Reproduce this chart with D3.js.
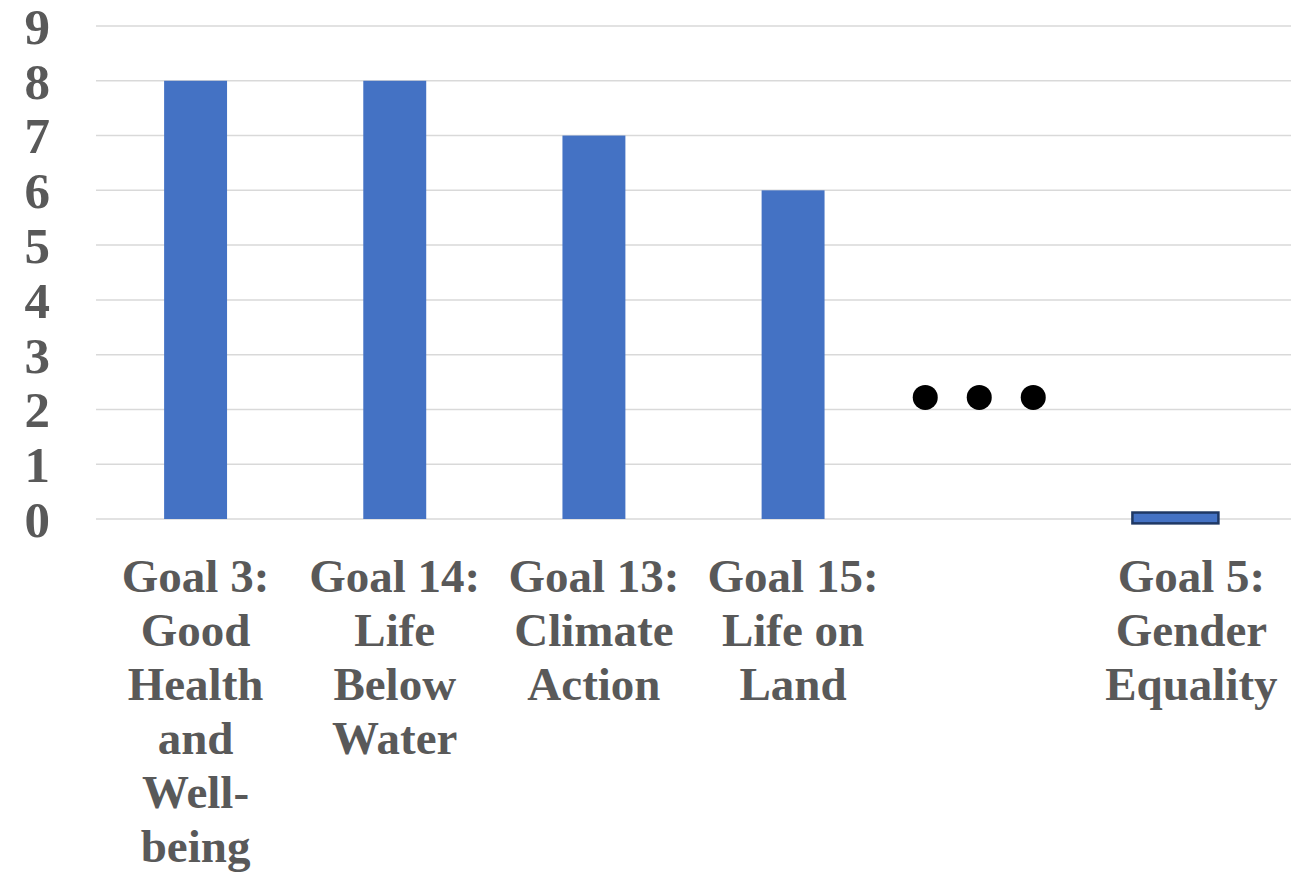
<!DOCTYPE html>
<html><head><meta charset="utf-8">
<script src="https://cdn.jsdelivr.net/npm/d3@7"></script>
<style>body{margin:0;background:#fff}svg{display:block}</style>
</head><body>
<svg id="c" width="1299" height="877"></svg>
<script>
const categories = ["Goal 3", "Goal 14", "Goal 13", "Goal 15", "...", "Goal 5"];
const values = [8, 8, 7, 6, null, 0.1];
const labelLines = [
  ["Goal 3:", "Good", "Health", "and", "Well-", "being"],
  ["Goal 14:", "Life", "Below", "Water"],
  ["Goal 13:", "Climate", "Action"],
  ["Goal 15:", "Life on", "Land"],
  [],
  ["Goal 5:", "Gender", "Equality"]
];
const yTicks = [0,1,2,3,4,5,6,7,8,9];
const ellipsisLevel = 2.22;
const ellipsisOffsets = [-1, 0, 1];

const svg = d3.select("#c");
const x = d3.scaleBand().domain(categories).range([96, 1291]).paddingInner(0.684).paddingOuter(0.342);
const y = d3.scaleLinear().domain([0, 9]).range([519, 26]);
const textColor = "#595959";
const font = "'Liberation Serif', 'Times New Roman', serif";

svg.append("g").selectAll("line").data(yTicks).join("line")
  .attr("x1", 96).attr("x2", 1291)
  .attr("y1", d => y(d)).attr("y2", d => y(d))
  .attr("stroke", "#d9d9d9").attr("stroke-width", 1.5);

svg.append("g").selectAll("text").data(yTicks).join("text")
  .attr("x", 50).attr("y", d => y(d)).attr("dy", "0.35em")
  .attr("text-anchor", "end")
  .attr("font-family", font).attr("font-weight", "bold").attr("font-size", 51)
  .attr("fill", textColor).text(d => d);

const data = categories.map((c, i) => ({c, v: values[i], lines: labelLines[i]}));

svg.append("g").selectAll("rect").data(data.filter(d => d.v !== null && d.v >= 1)).join("rect")
  .attr("x", d => x(d.c)).attr("width", x.bandwidth())
  .attr("y", d => y(d.v)).attr("height", d => y(0) - y(d.v))
  .attr("fill", "#4472C4");

// small outlined bar
const small = data.filter(d => d.v !== null && d.v < 1);
svg.append("g").selectAll("rect").data(small).join("rect")
  .attr("x", d => x(d.c) + x.bandwidth()/2 - 16 - 43)
  .attr("width", 86)
  .attr("y", d => y(d.v) - 1).attr("height", d => y(-0.08) - y(d.v) + 1)
  .attr("fill", "#4472C4").attr("stroke", "#1f3864").attr("stroke-width", 2.5);

// ellipsis dots
const ec = x("...") + x.bandwidth()/2 - 13;
svg.append("g").selectAll("circle").data(ellipsisOffsets).join("circle")
  .attr("cx", d => ec + d * 54).attr("cy", y(ellipsisLevel)).attr("r", 12.5)
  .attr("fill", "#000");

const lab = svg.append("g").selectAll("text").data(data).join("text")
  .attr("x", d => x(d.c) + x.bandwidth()/2)
  .attr("y", 592)
  .attr("text-anchor", "middle")
  .attr("font-family", font).attr("font-weight", "bold").attr("font-size", 47)
  .attr("fill", textColor);
lab.selectAll("tspan").data(d => d.lines).join("tspan")
  .attr("x", function(){ return this.parentNode.getAttribute("x"); })
  .attr("dy", (d, i) => i === 0 ? 0 : 54)
  .text(d => d);
</script>
</body></html>
